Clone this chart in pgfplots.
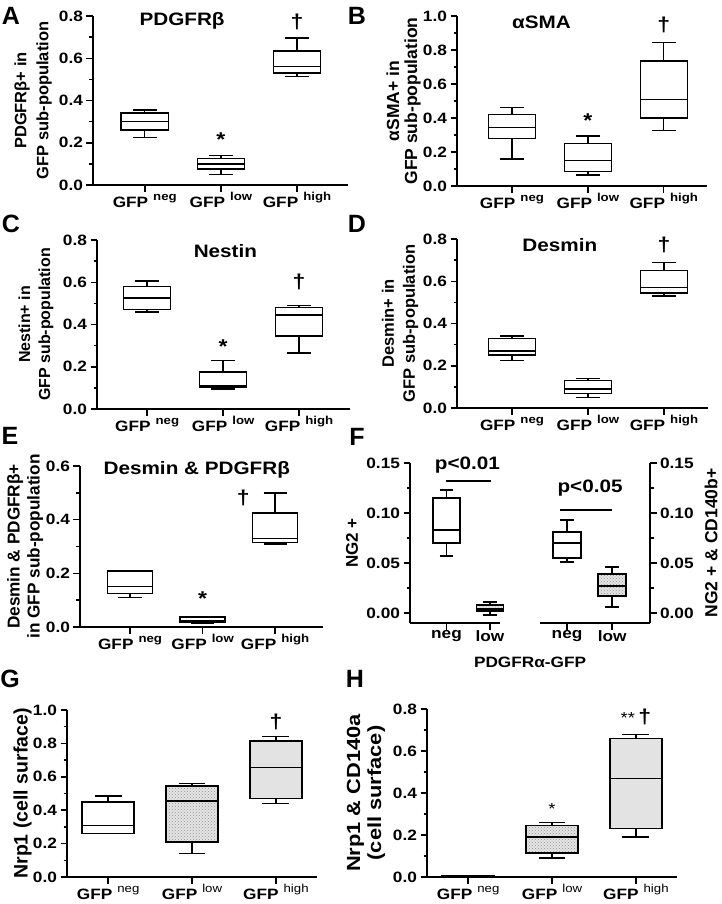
\documentclass[border=0pt]{standalone}
\usepackage{pgfplots}
\pgfplotsset{compat=1.18}
\usepgfplotslibrary{statistics}
\usetikzlibrary{patterns}
\usepackage{fontspec}
\setmainfont{Liberation Sans}[FakeStretch=1.15]
\newfontfamily\plainsans{Liberation Sans}
\newcommand\sps[1]{\raisebox{0.5em}[1em][0pt]{\fontsize{11.5}{12}\selectfont #1}}
\newcommand\gfp[1]{GFP\hspace{5pt}\sps{#1}}
\newcommand\gfpm[1]{GFP\hspace{5pt}\sps{\mdseries #1}}

\tikzset{
  ttl/.style={font=\bfseries\fontsize{18}{20}\selectfont},
  mk/.style={font=\bfseries\fontsize{20}{22}\selectfont},
}
\pgfplotsset{
  panel/.style={
    scale only axis, clip=false,
    axis lines*=left, axis line style={-, line width=1.6pt},
    tick style={black, line width=1.5pt},
    tick align=outside, major tick length=6.5pt, minor tick length=3.5pt,
    xtick={1,2,3}, ymin=0, minor y tick num=1,
    /pgf/number format/assume math mode=true,
    tick label style={font=\bfseries\fontsize{15}{17}\selectfont},
    xticklabel style={inner sep=1pt},
    yticklabel style={/pgf/number format/fixed, /pgf/number format/fixed zerofill, /pgf/number format/precision=1},
    xticklabels={\gfp{neg},\gfp{low},\gfp{high}},
    boxplot/draw direction=y,
    boxplot/box extend=0.62,
    boxplot/whisker extend=0.32,
  },
  ylab/.style n args={3}{every axis y label/.style={at={(axis description cs:#1,0.5)}, rotate=90, anchor=center, align=center, font=\plainsans\bfseries\fontsize{#2}{#3}\selectfont}},
  bx/.style={black, line width=1.4pt, boxplot prepared={#1}},
  stip/.style={boxplot/every box/.style={preaction={fill=gray!20}, pattern=crosshatch dots, pattern color=gray!85}},
  grey/.style={boxplot/every box/.style={fill=gray!22}},
}

\begin{document}
\begin{tikzpicture}
\useasboundingbox (0,0) rectangle (721pt,-904pt);
\begin{scope}[font=\plainsans\bfseries\fontsize{25}{25}\selectfont]
\node at (11pt,-16pt) {A};
\node at (357pt,-16pt) {B};
\node at (11pt,-224pt) {C};
\node at (357pt,-224pt) {D};
\node at (10pt,-436pt) {E};
\node at (357pt,-437pt) {F};
\node at (10pt,-679pt) {G};
\node at (355pt,-679pt) {H};
\end{scope}

% A
\begin{axis}[panel, at={(93pt,-185pt)}, anchor=south west, width=255pt, height=169pt,
  xmin=0.32, xmax=3.67, ymax=0.8, ytick={0,0.2,0.4,0.6,0.8},
  ylab={-0.235}{16.5}{22}, ylabel={PDGFRβ+ in\\GFP sub-population}]
\addplot[bx={lower whisker=0.225, lower quartile=0.26, median=0.30, upper quartile=0.34, upper whisker=0.355, draw position=1}] coordinates {};
\addplot[bx={lower whisker=0.05, lower quartile=0.075, median=0.10, upper quartile=0.125, upper whisker=0.14, draw position=2}] coordinates {};
\addplot[bx={lower whisker=0.515, lower quartile=0.53, median=0.56, upper quartile=0.635, upper whisker=0.695, draw position=3}] coordinates {};
\node[ttl] at (axis cs:1.49,0.775) {PDGFRβ};
\node[mk] at (axis cs:2,0.215) {*};
\node[mk] at (axis cs:3,0.77) {†};
\end{axis}

% B
\begin{axis}[panel, at={(457pt,-186pt)}, anchor=south west, width=250pt, height=170pt,
  xmin=0.276, xmax=3.57, ymax=1.0, ytick={0,0.2,0.4,0.6,0.8,1.0},
  ylab={-0.214}{17.5}{18}, ylabel={αSMA+ in\\GFP sub-population}]
\addplot[bx={lower whisker=0.16, lower quartile=0.28, median=0.345, upper quartile=0.42, upper whisker=0.46, draw position=1}] coordinates {};
\addplot[bx={lower whisker=0.065, lower quartile=0.085, median=0.15, upper quartile=0.25, upper whisker=0.295, draw position=2}] coordinates {};
\addplot[bx={lower whisker=0.325, lower quartile=0.40, median=0.51, upper quartile=0.735, upper whisker=0.845, draw position=3}] coordinates {};
\node[ttl] at (axis cs:1.39,0.96) {αSMA};
\node[mk] at (axis cs:2,0.385) {*};
\node[mk] at (axis cs:3,0.95) {†};
\end{axis}

% C
\begin{axis}[panel, at={(97pt,-409pt)}, anchor=south west, width=253pt, height=169pt,
  xmin=0.34, xmax=3.67, ymax=0.8, ytick={0,0.2,0.4,0.6,0.8},
  ylab={-0.241}{16}{20}, ylabel={Nestin+ in\\GFP sub-population}]
\addplot[bx={lower whisker=0.46, lower quartile=0.47, median=0.525, upper quartile=0.58, upper whisker=0.605, draw position=1}] coordinates {};
\addplot[bx={lower whisker=0.095, lower quartile=0.105, median=0.11, upper quartile=0.175, upper whisker=0.23, draw position=2}] coordinates {};
\addplot[bx={lower whisker=0.265, lower quartile=0.345, median=0.445, upper quartile=0.48, upper whisker=0.49, draw position=3}] coordinates {};
\node[ttl] at (axis cs:2.03,0.75) {Nestin};
\node[mk] at (axis cs:2,0.295) {*};
\node[mk] at (axis cs:3,0.60) {†};
\end{axis}

% D
\begin{axis}[panel, at={(457pt,-408pt)}, anchor=south west, width=251pt, height=169pt,
  xmin=0.276, xmax=3.58, ymax=0.8, ytick={0,0.2,0.4,0.6,0.8},
  ylab={-0.227}{16.5}{21}, ylabel={Desmin+ in\\GFP sub-population}]
\addplot[bx={lower whisker=0.225, lower quartile=0.25, median=0.27, upper quartile=0.33, upper whisker=0.34, draw position=1}] coordinates {};
\addplot[bx={lower whisker=0.05, lower quartile=0.07, median=0.09, upper quartile=0.13, upper whisker=0.14, draw position=2}] coordinates {};
\addplot[bx={lower whisker=0.53, lower quartile=0.545, median=0.57, upper quartile=0.65, upper whisker=0.69, draw position=3}] coordinates {};
\node[ttl] at (axis cs:1.63,0.77) {Desmin};
\node[mk] at (axis cs:3,0.77) {†};
\end{axis}

% E
\begin{axis}[panel, at={(80pt,-627pt)}, anchor=south west, width=243pt, height=161pt,
  xmin=0.31, xmax=3.66, ymax=0.6, ytick={0,0.2,0.4,0.6},
  ylab={-0.226}{17.2}{20}, ylabel={Desmin \& PDGFRβ+\\in GFP sub-population}]
\addplot[bx={lower whisker=0.11, lower quartile=0.125, median=0.15, upper quartile=0.208, upper whisker=0.21, draw position=1}] coordinates {};
\addplot[bx={lower whisker=0.015, lower quartile=0.018, median=0.022, upper quartile=0.037, upper whisker=0.038, draw position=2}] coordinates {};
\addplot[bx={lower whisker=0.31, lower quartile=0.315, median=0.33, upper quartile=0.425, upper whisker=0.50, draw position=3}] coordinates {};
\node[ttl] at (axis cs:1.92,0.585) {Desmin \& PDGFRβ};
\node[mk] at (axis cs:2,0.105) {*};
\node[mk] at (axis cs:2.56,0.48) {†};
\end{axis}

% F left
\begin{axis}[panel, at={(410pt,-623pt)}, anchor=south west, width=90pt, height=160pt,
  xmin=0.16, xmax=2.23, xtick={1,2}, xticklabels={neg,low},
  ymin=-0.01, ymax=0.15, ytick={0,0.05,0.10,0.15},
  yticklabel style={/pgf/number format/precision=2},
  ylab={-0.644}{17}{20}, ylabel={NG2 +}]
\addplot[bx={lower whisker=0.057, lower quartile=0.07, median=0.083, upper quartile=0.115, upper whisker=0.123, draw position=1}] coordinates {};
\addplot[stip, bx={lower whisker=-0.002, lower quartile=0.002, median=0.004, upper quartile=0.008, upper whisker=0.011, draw position=2}] coordinates {};
\addplot[black, line width=1.3pt] coordinates {(0.98,0.132) (2.02,0.132)};
\node[ttl] at (axis cs:1.48,0.148) {p<0.01};
\end{axis}

% F right
\begin{axis}[panel, at={(540pt,-623pt)}, anchor=south west, width=110pt, height=160pt,
  axis x line*=bottom, axis y line*=right,
  xmin=0.4, xmax=2.84, xtick={1,2}, xticklabels={neg,low},
  ymin=-0.01, ymax=0.15, ytick={0,0.05,0.10,0.15},
  yticklabel style={/pgf/number format/precision=2},
  ylab={1.555}{17.5}{20}, ylabel={NG2 + \& CD140b+},
  xlabel={PDGFRα-GFP},
  every axis x label/.style={at={(axis description cs:-0.09,0)}, anchor=north, yshift=-30pt, font=\bfseries\fontsize{15}{17}\selectfont}]
\addplot[bx={lower whisker=0.051, lower quartile=0.055, median=0.07, upper quartile=0.081, upper whisker=0.093, draw position=1}] coordinates {};
\addplot[stip, bx={lower whisker=0.006, lower quartile=0.017, median=0.027, upper quartile=0.039, upper whisker=0.046, draw position=2}] coordinates {};
\addplot[black, line width=1.3pt] coordinates {(0.84,0.103) (2.0,0.103)};
\node[ttl] at (axis cs:1.51,0.125) {p<0.05};
\end{axis}

% G
\begin{axis}[panel, at={(67pt,-877pt)}, anchor=south west, width=250pt, height=167pt,
  xmin=0.51, xmax=3.49, ymax=1.0, ytick={0,0.2,0.4,0.6,0.8,1.0},
  xticklabels={\gfpm{neg},\gfpm{low},\gfpm{high}},
  ylab={-0.178}{19.5}{22}, ylabel={Nrp1 (cell surface)}]
\addplot[bx={lower whisker=0.26, lower quartile=0.26, median=0.31, upper quartile=0.45, upper whisker=0.485, draw position=1}] coordinates {};
\addplot[stip, bx={lower whisker=0.14, lower quartile=0.21, median=0.455, upper quartile=0.545, upper whisker=0.56, draw position=2}] coordinates {};
\addplot[grey, bx={lower whisker=0.44, lower quartile=0.47, median=0.655, upper quartile=0.815, upper whisker=0.84, draw position=3}] coordinates {};
\node[mk] at (axis cs:3,0.93) {†};
\end{axis}

% H
\begin{axis}[panel, at={(427pt,-877pt)}, anchor=south west, width=250pt, height=168pt,
  xmin=0.51, xmax=3.49, ymax=0.8, ytick={0,0.2,0.4,0.6,0.8},
  xticklabels={\gfpm{neg},\gfpm{low},\gfpm{high}},
  ylab={-0.244}{19}{21}, ylabel={Nrp1 \& CD140a\\(cell surface)},
  ylabel style={font=\bfseries\fontsize{19}{21}\selectfont}]
\addplot[bx={lower whisker=0, lower quartile=0, median=0.003, upper quartile=0.005, upper whisker=0.005, draw position=1}] coordinates {};
\addplot[stip, bx={lower whisker=0.09, lower quartile=0.115, median=0.19, upper quartile=0.245, upper whisker=0.26, draw position=2}] coordinates {};
\addplot[grey, bx={lower whisker=0.19, lower quartile=0.23, median=0.47, upper quartile=0.66, upper whisker=0.68, draw position=3}] coordinates {};
\node[font=\fontsize{16}{17}\selectfont] at (axis cs:2,0.325) {*};
\node[mk] at (axis cs:3,0.76) {{\mdseries\fontsize{16}{17}\selectfont **}\,†};
\end{axis}
\end{tikzpicture}
\end{document}
